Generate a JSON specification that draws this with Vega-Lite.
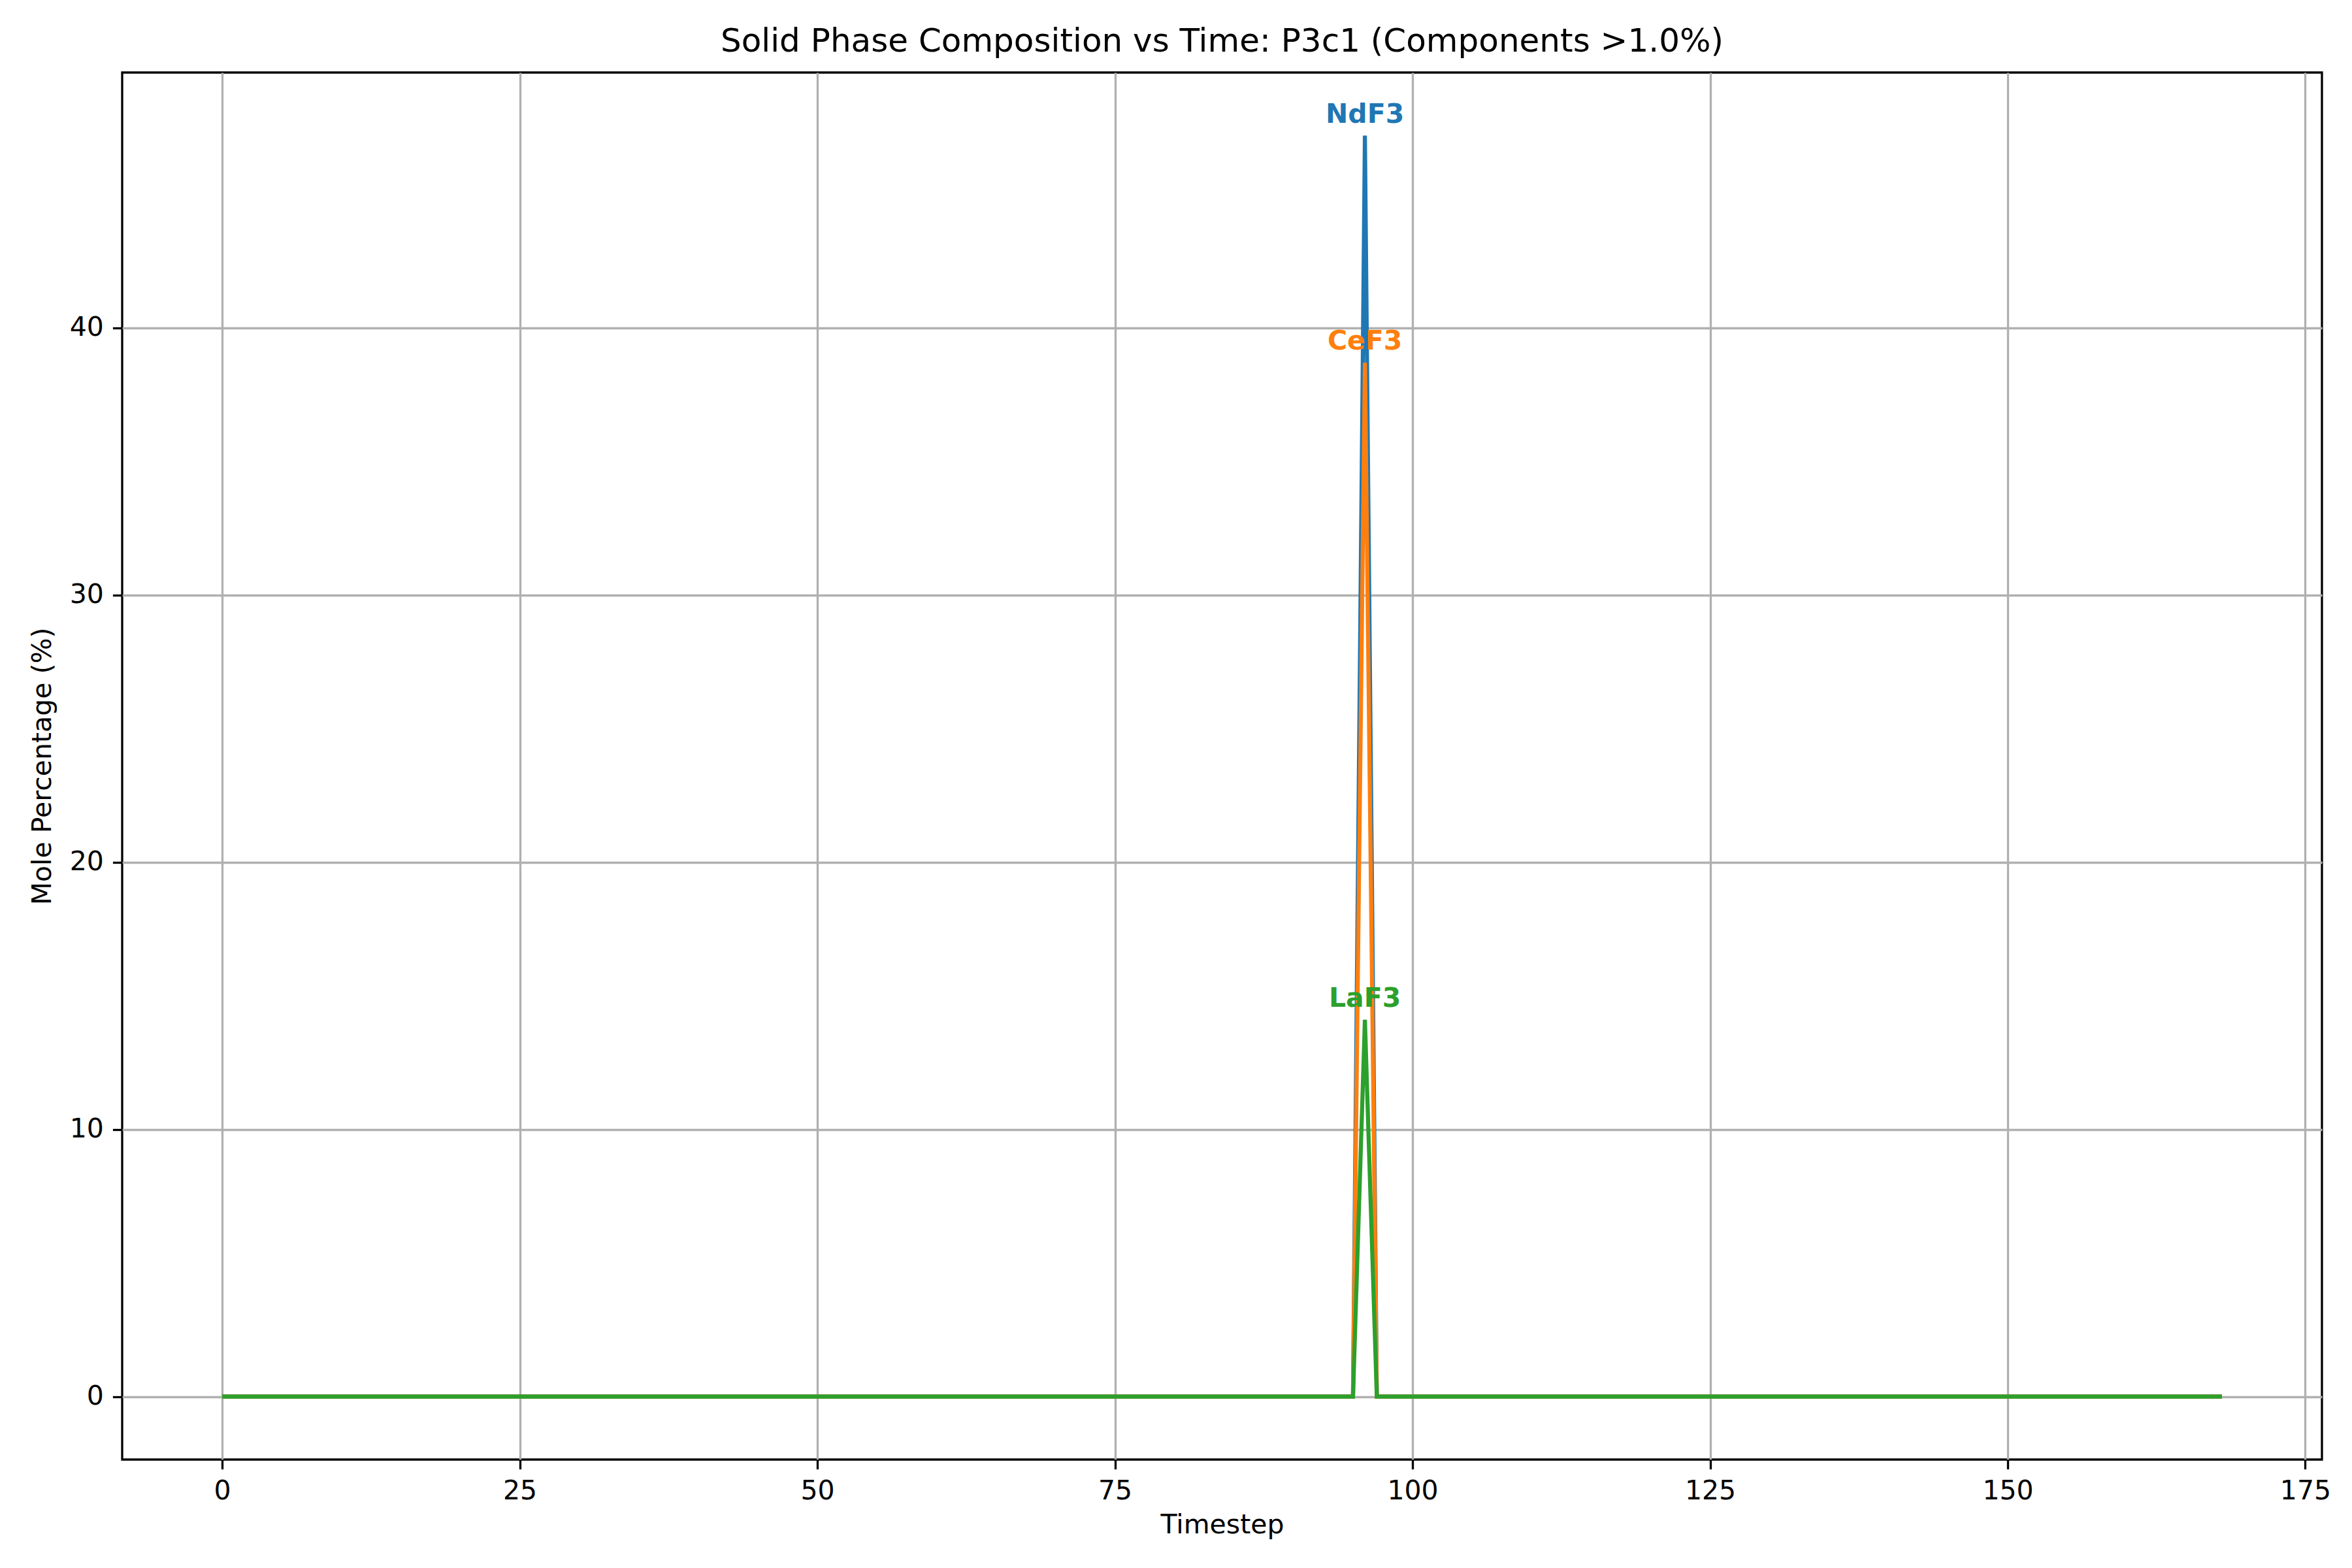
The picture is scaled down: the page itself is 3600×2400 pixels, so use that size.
{
  "$schema": "https://vega.github.io/schema/vega-lite/v6.json",
  "autosize": {"type": "none"},
  "padding": {"left": 187, "top": 111, "right": 46, "bottom": 166},
  "width": 3367,
  "height": 2123,
  "background": "white",
  "config": {
    "font": "DejaVu Sans",
    "view": {"stroke": "black", "strokeWidth": 3.3},
    "axis": {
      "grid": true, "gridColor": "#b0b0b0", "gridWidth": 3.3,
      "domain": false, "tickColor": "black", "tickWidth": 3.3, "tickSize": 14.6,
      "labelFont": "DejaVu Sans", "labelFontSize": 41, "labelColor": "black", "labelPadding": 14,
      "titleFont": "DejaVu Sans", "titleFontSize": 41, "titleFontWeight": "normal", "titleColor": "black"
    },
    "title": {"font": "DejaVu Sans", "fontSize": 50, "fontWeight": "normal", "color": "black", "offset": 22}
  },
  "title": "Solid Phase Composition vs Time: P3c1 (Components >1.0%)",
  "datasets": {
    "series": [
      {"t": 0, "c": "NdF3", "v": 0}, {"t": 95, "c": "NdF3", "v": 0}, {"t": 96, "c": "NdF3", "v": 47.2}, {"t": 97, "c": "NdF3", "v": 0}, {"t": 168, "c": "NdF3", "v": 0},
      {"t": 0, "c": "CeF3", "v": 0}, {"t": 95, "c": "CeF3", "v": 0}, {"t": 96, "c": "CeF3", "v": 38.7}, {"t": 97, "c": "CeF3", "v": 0}, {"t": 168, "c": "CeF3", "v": 0},
      {"t": 0, "c": "LaF3", "v": 0}, {"t": 95, "c": "LaF3", "v": 0}, {"t": 96, "c": "LaF3", "v": 14.1}, {"t": 97, "c": "LaF3", "v": 0}, {"t": 168, "c": "LaF3", "v": 0}
    ],
    "labels": [
      {"t": 96, "c": "NdF3", "v": 47.2},
      {"t": 96, "c": "CeF3", "v": 38.7},
      {"t": 96, "c": "LaF3", "v": 14.1}
    ]
  },
  "encoding": {
    "x": {"field": "t", "type": "quantitative", "title": "Timestep",
          "scale": {"domain": [-8.4, 176.4], "nice": false, "zero": false},
          "axis": {"values": [0, 25, 50, 75, 100, 125, 150, 175], "titlePadding": 12}},
    "y": {"field": "v", "type": "quantitative", "title": "Mole Percentage (%)",
          "scale": {"domain": [-2.36, 49.56], "nice": false, "zero": false},
          "axis": {"values": [0, 10, 20, 30, 40], "titlePadding": 20}},
    "color": {"field": "c", "type": "nominal", "legend": null,
              "scale": {"domain": ["NdF3", "CeF3", "LaF3"], "range": ["#1f77b4", "#ff7f0e", "#2ca02c"]}}
  },
  "layer": [
    {"data": {"name": "series"}, "transform": [{"filter": "datum.c === 'NdF3'"}], "mark": {"type": "line", "strokeWidth": 6.25}},
    {"data": {"name": "series"}, "transform": [{"filter": "datum.c === 'CeF3'"}], "mark": {"type": "line", "strokeWidth": 6.25}},
    {"data": {"name": "series"}, "transform": [{"filter": "datum.c === 'LaF3'"}], "mark": {"type": "line", "strokeWidth": 6.25}},
    {"data": {"name": "labels"}, "mark": {"type": "text", "fontWeight": "bold", "fontSize": 41, "baseline": "alphabetic", "align": "center", "dy": -20},
     "encoding": {"text": {"field": "c"}}}
  ]
}
